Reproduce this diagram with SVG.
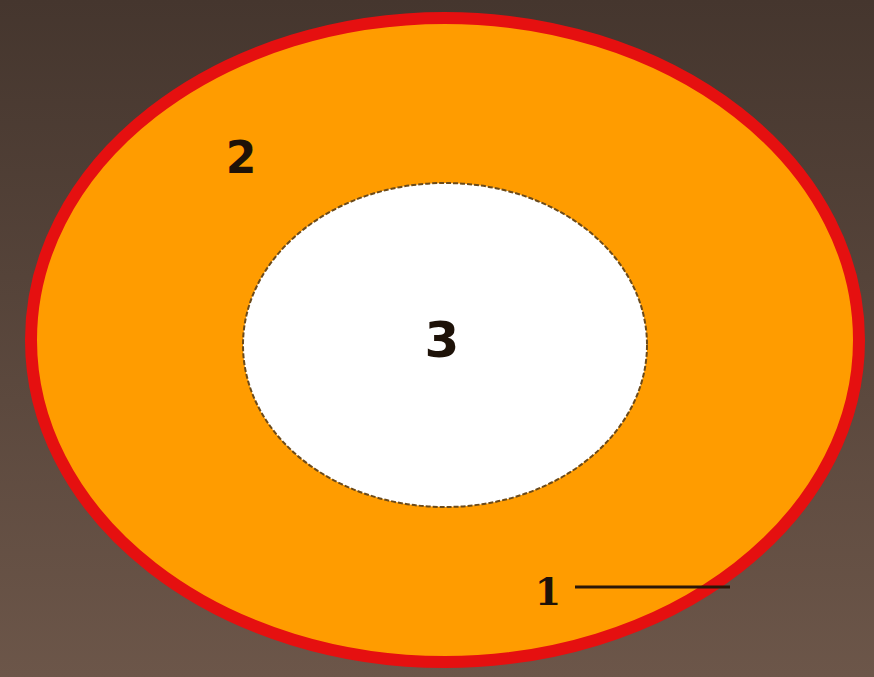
<svg xmlns="http://www.w3.org/2000/svg" width="874" height="677" viewBox="0 0 874 677">
<defs>
<linearGradient id="bg" x1="0" y1="0" x2="0" y2="1">
<stop offset="0" stop-color="#45362e"/>
<stop offset="1" stop-color="#6c5649"/>
</linearGradient>
</defs>
<style>
.lbl{font-family:"DejaVu Sans",Verdana,sans-serif;font-weight:bold;fill:#1e1208;text-anchor:middle}
.ser{font-family:"DejaVu Serif","Liberation Serif",serif}
</style>
<rect x="0" y="0" width="874" height="677" fill="url(#bg)"/>
<g id="outer">
<ellipse cx="445" cy="340" rx="414" ry="322" fill="#ff9c00" stroke="#e51010" stroke-width="12"/>
</g>
<g id="inner">
<ellipse cx="445" cy="345" rx="202" ry="162" fill="#ffffff" stroke="#6b4a1a" stroke-width="2" stroke-dasharray="5 2"/>
</g>
<g id="connectors">
<line x1="575" y1="587" x2="730" y2="587" stroke="#2a1708" stroke-width="3"/>
</g>
<g id="labels">
<text class="lbl" x="241" y="173" font-size="44">2</text>
<text class="lbl" x="442" y="357" font-size="50">3</text>
<text class="lbl ser" x="548" y="605" font-size="38">1</text>
</g>
</svg>
